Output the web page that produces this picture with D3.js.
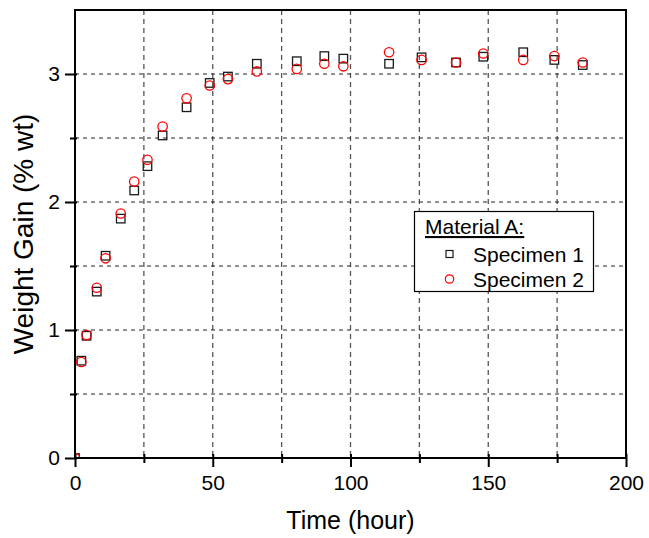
<!DOCTYPE html>
<html>
<head>
<meta charset="utf-8">
<script src="https://cdn.jsdelivr.net/npm/d3@7"></script>
<style>
  html, body { margin: 0; padding: 0; background: #fff; }
  svg { display: block; font-family: Arial, "Liberation Sans", sans-serif; }
</style>
</head>
<body>
<svg id="chart" width="649" height="538"></svg>
<script>
  /* ── Data ──────────────────────────────────────────────── */
  const time  = [0, 2.3, 4.2, 7.9, 11.1, 16.6, 21.5, 26.3, 31.8, 40.5, 48.9, 55.5,
                 66, 80.5, 90.5, 97.4, 114, 125.8, 138.3, 148.2, 162.7, 174, 184.3];
  const spec1 = [0, 0.76, 0.955, 1.30, 1.58, 1.87, 2.09, 2.28, 2.52, 2.74, 2.93, 2.98,
                 3.08, 3.10, 3.14, 3.12, 3.08, 3.13, 3.09, 3.135, 3.17, 3.11, 3.07];
  const spec2 = [0, 0.75, 0.96, 1.33, 1.56, 1.91, 2.16, 2.33, 2.59, 2.81, 2.91, 2.96,
                 3.02, 3.04, 3.08, 3.06, 3.17, 3.11, 3.09, 3.16, 3.11, 3.14, 3.09];

  const xMajor = [0, 50, 100, 150, 200];
  const xMinor = [25, 75, 125, 175];
  const yMajor = [0, 1, 2, 3];
  const yMinor = [0.5, 1.5, 2.5];
  const xGrid  = [25, 50, 75, 100, 125, 150, 175];
  const yGrid  = [0.5, 1, 1.5, 2, 2.5, 3];

  const legendTitle = "Material A:";
  const seriesNames = ["Specimen 1", "Specimen 2"];

  /* ── Layout ────────────────────────────────────────────── */
  const L = 75, R = 626, T = 10, B = 458;
  const svg = d3.select("#chart");
  const x = d3.scaleLinear().domain([0, 200]).range([L, R]);
  const y = d3.scaleLinear().domain([0, 3.5]).range([B, T]);

  /* grid */
  const grid = svg.append("g");
  grid.selectAll("line.gx").data(xGrid).join("line")
    .attr("x1", d => x(d)).attr("x2", d => x(d))
    .attr("y1", T).attr("y2", B)
    .attr("stroke", "#555").attr("stroke-width", 1.3)
    .attr("stroke-dasharray", "5,4");
  grid.selectAll("line.gy").data(yGrid).join("line")
    .attr("x1", L).attr("x2", R)
    .attr("y1", d => y(d)).attr("y2", d => y(d))
    .attr("stroke", "#222").attr("stroke-width", 1)
    .attr("stroke-dasharray", "4,4");

  /* points (clipped to the plot area) */
  svg.append("clipPath").attr("id", "plot-clip")
    .append("rect").attr("x", L).attr("y", T).attr("width", R - L).attr("height", B - T);
  const pts = svg.append("g").attr("clip-path", "url(#plot-clip)");
  const rows = time.map((t, i) => ({ t, a: spec1[i], b: spec2[i] }));
  const S = 8.5;
  pts.selectAll("rect").data(rows).join("rect")
    .attr("x", d => x(d.t) - S / 2).attr("y", d => y(d.a) - S / 2)
    .attr("width", S).attr("height", S)
    .attr("fill", "none").attr("stroke", "#1a1a1a").attr("stroke-width", 1.3);
  pts.selectAll("circle").data(rows).join("circle")
    .attr("cx", d => x(d.t)).attr("cy", d => y(d.b)).attr("r", 4.7)
    .attr("fill", "none").attr("stroke", "#ff0000").attr("stroke-width", 1.3);

  /* ── Axes ──────────────────────────────────────────────── */
  function styleAxis(g, inner, isX) {
    g.select(".domain").remove();
    g.selectAll(".tick line").attr("stroke", "#000").attr("stroke-width", 2)
      .attr(isX ? "y1" : "x1", isX ? -inner : inner);
  }

  const xAx = svg.append("g").attr("transform", `translate(0,${B})`);
  xAx.append("g")
    .call(d3.axisBottom(x).tickValues(xMajor).tickSize(9).tickPadding(8).tickFormat(d3.format("d")))
    .call(g => styleAxis(g, 4, true))
    .call(g => g.selectAll("text").attr("font-size", 21).attr("fill", "#000")
      .attr("font-family", "Arial, 'Liberation Sans', sans-serif"));
  xAx.append("g")
    .call(d3.axisBottom(x).tickValues(xMinor).tickSize(5).tickFormat(""))
    .call(g => styleAxis(g, 4, true));

  const yAx = svg.append("g").attr("transform", `translate(${L},0)`);
  yAx.append("g")
    .call(d3.axisLeft(y).tickValues(yMajor).tickSize(10).tickPadding(5).tickFormat(d3.format("d")))
    .call(g => styleAxis(g, 2, false))
    .call(g => g.selectAll("text").attr("font-size", 21).attr("fill", "#000")
      .attr("font-family", "Arial, 'Liberation Sans', sans-serif"));
  yAx.append("g")
    .call(d3.axisLeft(y).tickValues(yMinor).tickSize(5).tickFormat(""))
    .call(g => styleAxis(g, 2, false));

  /* frame */
  svg.append("rect").attr("x", L).attr("y", T).attr("width", R - L).attr("height", B - T)
    .attr("fill", "none").attr("stroke", "#000").attr("stroke-width", 2);

  /* titles */
  svg.append("text").attr("x", (L + R) / 2).attr("y", 529)
    .attr("text-anchor", "middle").attr("font-size", 25).text("Time (hour)");
  svg.append("text").attr("transform", `translate(33,${(T + B) / 2}) rotate(-90)`)
    .attr("text-anchor", "middle").attr("font-size", 28).text("Weight Gain (% wt)");

  /* ── Legend ────────────────────────────────────────────── */
  const lg = svg.append("g");
  lg.append("rect").attr("x", 414.5).attr("y", 211.5).attr("width", 179).attr("height", 80)
    .attr("fill", "#fff").attr("stroke", "#000").attr("stroke-width", 1.2);
  lg.append("text").attr("x", 425).attr("y", 234).attr("font-size", 21)
    .attr("text-decoration", "underline").text(legendTitle);
  const legY = [254, 279];
  lg.append("rect").attr("x", 449.5 - 3.5).attr("y", legY[0] - 3.5).attr("width", 7).attr("height", 7)
    .attr("fill", "none").attr("stroke", "#1a1a1a").attr("stroke-width", 1.2);
  lg.append("circle").attr("cx", 449.5).attr("cy", legY[1]).attr("r", 4.2)
    .attr("fill", "none").attr("stroke", "#ff0000").attr("stroke-width", 1.2);
  seriesNames.forEach((n, i) => {
    lg.append("text").attr("x", 473).attr("y", legY[i] + 7.5).attr("font-size", 21).text(n);
  });
</script>
</body>
</html>
